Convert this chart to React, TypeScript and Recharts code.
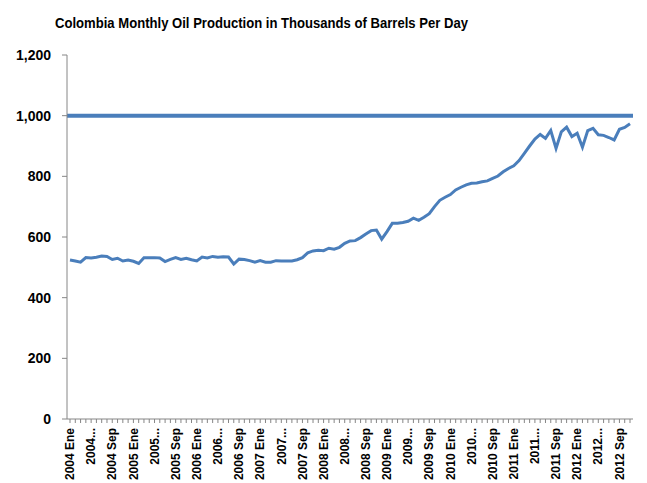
import React from "react";
import { LineChart, Line, XAxis, YAxis, ReferenceLine } from "recharts";

const TITLE = "Colombia Monthly Oil Production in Thousands of Barrels Per Day";

// Months Jan 2004 .. Nov 2012
const YEARS = [2004, 2005, 2006, 2007, 2008, 2009, 2010, 2011, 2012];
const MONTH_COUNT = 107;

const production = [
  524, 521, 517, 532, 531, 533, 537, 536, 526, 530, 521, 524,
  520, 513, 532, 532, 532, 531, 519, 526, 532, 526, 530, 525,
  521, 534, 531, 536, 533, 535, 534, 511, 527, 526, 522, 517,
  522, 517, 517, 522, 521, 521, 521, 525, 532, 548, 554, 556,
  555, 563, 560, 566, 579, 587, 588, 598, 610, 621, 623, 593,
  618, 645, 645, 648, 652, 662, 655, 665, 677, 700, 721, 731,
  740, 755, 764, 772, 777, 778, 782, 785, 793, 801, 815, 826,
  835, 852, 876, 900, 923, 938, 925, 951, 892, 947, 962, 931,
  942, 896, 951, 958, 937, 935, 928, 920, 955, 961, 973,
];

const Y_TICKS = [0, 200, 400, 600, 800, 1000, 1200];
const TARGET = 1000;

// Tick label text per month (1-based): only every 4th month is labelled
const MONTH_TICK_TEXT: Record<number, string> = { 1: " Ene", 5: "...", 9: " Sep" };

const categories: { year: number; month: number }[] = [];
YEARS.forEach((y) => {
  for (let m = 1; m <= 12; m++) categories.push({ year: y, month: m });
});

const data = categories.slice(0, MONTH_COUNT).map((c, i) => ({
  key: `${c.year}-${String(c.month).padStart(2, "0")}`,
  year: c.year,
  month: c.month,
  value: production[i],
}));

const FONT = "'Liberation Sans', Arial, sans-serif";
const BLUE = "#4A7EBB";
const AXIS_GRAY = "#868686";

const XTick = (props: any) => {
  const { x, y, payload } = props;
  const [yr, mo] = String(payload.value).split("-");
  const suffix = MONTH_TICK_TEXT[parseInt(mo, 10)];
  if (!suffix) return null;
  return (
    <text
      x={x}
      y={y + 3}
      dy="0.35em"
      transform={`rotate(-90, ${x}, ${y + 3})`}
      textAnchor="end"
      fontFamily={FONT}
      fontWeight="bold"
      fontSize={12}
      fill="#000"
    >
      {yr + suffix}
    </text>
  );
};

export default function App() {
  return (
    <div style={{ position: "absolute", left: 0, top: 0, width: 647, height: 483, background: "#fff" }}>
      <svg
        width={647}
        height={40}
        style={{ position: "absolute", left: 0, top: 0 }}
      >
        <text
          x={261.5}
          y={28}
          textAnchor="middle"
          fontFamily={FONT}
          fontWeight="bold"
          fontSize={15}
          textLength={413}
          lengthAdjust="spacingAndGlyphs"
          fill="#000"
        >
          {TITLE}
        </text>
      </svg>
      <LineChart
        width={647}
        height={483}
        data={data}
        margin={{ top: 55, right: 14, bottom: 0, left: 0 }}
        style={{ position: "absolute", left: 0, top: 0 }}
      >
        <XAxis
          dataKey="key"
          interval={0}
          tick={<XTick />}
          tickSize={4}
          stroke={AXIS_GRAY}
          height={64}
          padding={{ left: 3, right: 3 }}
        />
        <YAxis
          domain={[0, 1200]}
          ticks={Y_TICKS}
          width={67}
          tickSize={5}
          tickMargin={11}
          stroke={AXIS_GRAY}
          tickFormatter={(v: number) => v.toLocaleString("en-US")}
          tick={{ fill: "#000", fontFamily: FONT, fontWeight: "bold", fontSize: 14 }}
          interval={0}
        />
        <ReferenceLine y={TARGET} stroke={BLUE} strokeWidth={4} ifOverflow="visible" />
        <Line
          type="linear"
          dataKey="value"
          stroke={BLUE}
          strokeWidth={3}
          dot={false}
          isAnimationActive={false}
        />
      </LineChart>
    </div>
  );
}
